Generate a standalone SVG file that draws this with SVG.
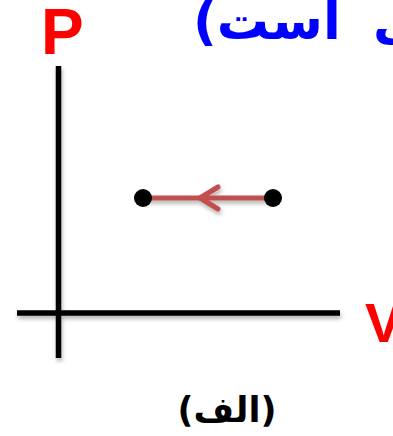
<svg xmlns="http://www.w3.org/2000/svg" width="393" height="436" viewBox="0 0 393 436">
<defs>
<style>
.axis{stroke:#000;stroke-width:5.5;fill:none}
.lbl{font-family:"Liberation Sans",Arial,sans-serif;font-weight:bold;fill:#ff0000}
.fa{font-family:"DejaVu Sans",sans-serif;font-weight:bold}
.path{stroke:#c0504d;stroke-width:5;fill:none;stroke-linecap:round;stroke-linejoin:round}
</style>
<filter id="sh" x="-10%" y="-50%" width="120%" height="200%">
<feDropShadow dx="1" dy="3" stdDeviation="2" flood-color="#000" flood-opacity="0.3"/>
</filter>
</defs>
<rect width="393" height="436" fill="#fff"/>
<g id="title">
<text class="fa" x="193" y="39" font-size="52" fill="#0000ff" direction="rtl" text-anchor="end" word-spacing="14">ی است)</text>
</g>
<g id="axes" filter="url(#sh)">
<line class="axis" x1="58.5" y1="66" x2="58.5" y2="358"/>
<line class="axis" x1="17" y1="313" x2="340" y2="313"/>
</g>
<g id="labelP"><text class="lbl" x="41" y="54" font-size="64">P</text></g>
<g id="labelV"><text class="lbl" x="365" y="342" font-size="56">V</text></g>
<g id="connectors" filter="url(#sh)">
<line class="path" x1="143" y1="198" x2="273" y2="198"/>
<polyline class="path" points="218,187 200,198 218,209"/>
</g>
<g id="nodeA"><circle cx="143" cy="198" r="9" fill="#000"/></g>
<g id="nodeB"><circle cx="273" cy="198" r="9" fill="#000"/></g>
<g id="caption">
<text class="fa" x="227" y="422" font-size="35" fill="#000" text-anchor="middle">(الف)</text>
</g>
</svg>
